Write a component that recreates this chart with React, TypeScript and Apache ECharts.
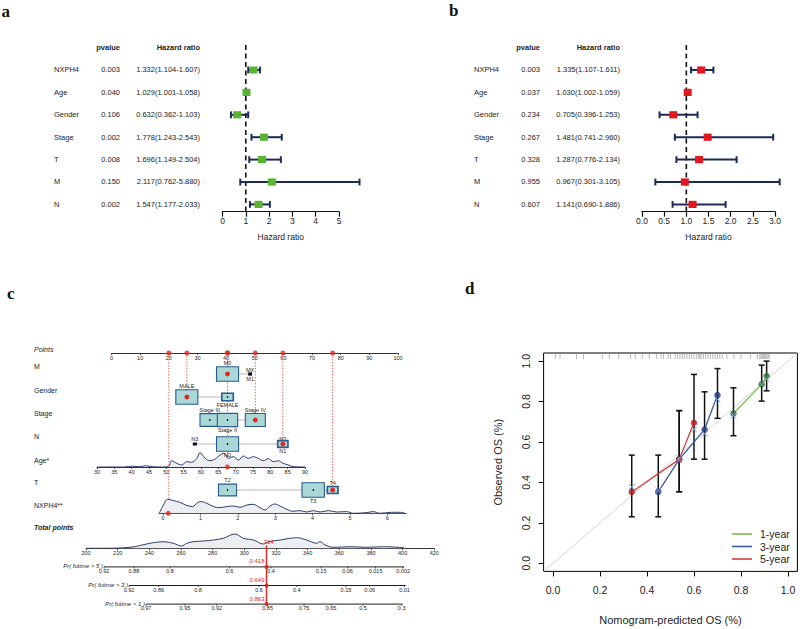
import React, { useEffect, useRef } from 'react';
import * as echarts from 'echarts';

const FONT = '"Liberation Sans", Arial, sans-serif';
const SERIF = '"Liberation Serif", "Times New Roman", serif';

// ---------------- Panels a & b : forest plots ----------------
const forestVars = ['NXPH4', 'Age', 'Gender', 'Stage', 'T', 'M', 'N'];
const uniP = ['0.003', '0.040', '0.106', '0.002', '0.008', '0.150', '0.002'];
const uniHR = [1.332, 1.029, 0.632, 1.778, 1.696, 2.117, 1.547];
const uniLow = [1.104, 1.001, 0.362, 1.243, 1.149, 0.762, 1.177];
const uniHigh = [1.607, 1.058, 1.103, 2.543, 2.504, 5.88, 2.033];
const multiP = ['0.003', '0.037', '0.234', '0.267', '0.328', '0.955', '0.607'];
const multiHR = [1.335, 1.03, 0.705, 1.481, 1.287, 0.967, 1.141];
const multiLow = [1.107, 1.002, 0.396, 0.741, 0.776, 0.301, 0.69];
const multiHigh = [1.611, 1.059, 1.253, 2.96, 2.134, 3.105, 1.886];

// ---------------- Panel c : nomogram ----------------
const mLevels = ['M0', 'MX', 'M1'];
const mScores = [40.5, 48.4, 48.4];
const mFreq = [0.92, 0.005, 0.01];
const genderLevels = ['MALE', 'FEMALE'];
const genderScores = [26.3, 40.5];
const genderFreq = [0.92, 0.25];
const stageLevels = ['Stage III', 'Stage II', 'Stage IV'];
const stageScores = [34.3, 40.5, 50.2];
const stageFreq = [0.72, 0.78, 0.76];
const nLevels = ['N3', 'N0', 'N2', 'N1'];
const nScores = [29.1, 40.5, 59.8, 59.8];
const nFreq = [0.012, 0.92, 0.05, 0.2];
const tLevels = ['T2', 'T3', 'T4'];
const tScores = [40.5, 70.4, 77.2];
const tFreq = [0.62, 0.95, 0.22];
const patientCats = { M: 'M0', Gender: 'MALE', Stage: 'Stage IV', N: 'N1', T: 'T4' };
const patientAge = 67.6;
const patientNXPH4 = 0.14;
const contribVars = ['NXPH4', 'Gender', 'M', 'Age', 'Stage', 'N', 'T'];
const contribPoints = [20.0, 26.3, 40.5, 40.5, 50.2, 59.8, 77.2];
const patientTotal = 314;
const patientProb = ['0.418', '0.649', '0.863'];

const ageDensX = [30, 38, 40, 42, 44, 46, 48, 50.6, 51.5, 53, 54.4, 55.9, 57.3, 58.8, 59.7, 61.2, 62.6, 64, 65.5, 66.6, 67.9, 69.3, 70.8, 72.2, 73.6, 75.1, 76.5, 78, 79.4, 80.9, 82.3, 83.7, 85.2, 86.6, 90];
const ageDensH = [0, 0, 0.8, 0.3, 1.2, 0.3, 0, 0.3, 6.3, 3.7, 2, 5.3, 4.7, 8.7, 14.3, 8.7, 6.3, 7.7, 12, 13.7, 8.7, 10.3, 7, 11, 8.7, 10.3, 8.7, 6.3, 8.3, 5.3, 6.3, 3.7, 2, 0.3, 0];
const nxDensX = [-0.1, 0.01, 0.12, 0.28, 0.45, 0.63, 0.79, 0.92, 1.03, 1.17, 1.35, 1.52, 1.7, 1.88, 2.06, 2.24, 2.41, 2.59, 2.73, 2.86, 2.99, 3.13, 3.31, 3.48, 3.66, 3.84, 4.02, 4.2, 4.42, 4.64, 4.91, 5.09, 5.45, 5.62, 5.8, 6.11, 6.34, 6.47];
const nxDensH = [0, 8.3, 14, 12.7, 11, 8, 6.7, 10.7, 11.7, 10, 6.7, 5.7, 6.7, 7.3, 6, 8.3, 9, 5.7, 3.3, 7.3, 9.3, 7.3, 4, 2, 2.7, 1.3, 2.7, 1.3, 2.7, 1.3, 1.7, 0, 0.7, 1.7, 0, 1, 1, 0];
const totDensX = [200, 208.8, 227.8, 238.3, 242.5, 248.8, 255.1, 260.4, 263.6, 267.8, 274.1, 280.4, 286.7, 294.1, 299.4, 305.7, 312, 315.2, 322.6, 328.9, 333.1, 339.4, 345.7, 347.8, 351, 356.2, 366.8, 377.3, 387.8, 401];
const totDensH = [0, 0, 1, 4.3, 5.6, 6.6, 5, 2.3, 5, 6.6, 7.3, 8.3, 10, 14.3, 10, 8.3, 4.3, 6.6, 8.3, 10, 10.6, 8.3, 5, 6.6, 3.3, 1, 1.6, 1, 1.6, 0.6];

const surv5Labels = ['0.92', '0.88', '0.8', '0.6', '0.4', '0.15', '0.06', '0.015', '0.002'];
const surv5At = [211.4, 230.3, 253.1, 290.7, 316.9, 348.5, 365.2, 382.9, 400.3];
const surv3Labels = ['0.92', '0.86', '0.8', '0.6', '0.4', '0.15', '0.06', '0.01'];
const surv3At = [227.2, 245.9, 270.8, 309.3, 333.1, 364.2, 379.2, 401.2];
const surv1Labels = ['0.97', '0.95', '0.92', '0.85', '0.75', '0.65', '0.5', '0.3'];
const surv1At = [237.9, 262.5, 282.6, 314.7, 337.7, 354.8, 375, 399.4];

// ---------------- Panel d : calibration ----------------
const cal1X = [0.768, 0.888, 0.909];
const cal1Y = [0.741, 0.885, 0.926];
const cal1Lo = [0.631, 0.802, 0.853];
const cal1Hi = [0.868, 0.98, 1.0];
const cal1Corr = [0.73, 0.885, 0.91];
const cal3X = [0.448, 0.537, 0.645, 0.7];
const cal3Y = [0.353, 0.514, 0.662, 0.832];
const cal3Lo = [0.23, 0.354, 0.515, 0.717];
const cal3Hi = [0.535, 0.755, 0.848, 0.963];
const cal3Corr = [0.36, 0.51, 0.64, 0.81];
const cal5X = [0.335, 0.537, 0.6];
const cal5Y = [0.353, 0.514, 0.695];
const cal5Lo = [0.23, 0.354, 0.515];
const cal5Hi = [0.535, 0.755, 0.934];
const cal5Corr = [0.378, 0.52, 0.662];
const rugValues = [0.01, 0.03, 0.1, 0.13, 0.21, 0.24, 0.28, 0.33, 0.35, 0.38, 0.41, 0.44, 0.46, 0.47, 0.49, 0.5, 0.52, 0.53, 0.54, 0.55, 0.56, 0.57, 0.58, 0.59, 0.6, 0.61, 0.62, 0.625, 0.63, 0.64, 0.65, 0.66, 0.67, 0.68, 0.69, 0.7, 0.71, 0.72, 0.74, 0.77, 0.8, 0.84, 0.87, 0.88, 0.885, 0.89, 0.895, 0.9, 0.905, 0.91, 0.915, 0.92];
const calTicks = [0, 0.2, 0.4, 0.6, 0.8, 1.0];

// ---------------- helpers ----------------
const zip = (a: number[], b: number[]) => a.map((v, i) => [v, b[i]]);

function tableItems(pv: string[], hr: number[], lo: number[], hi: number[], xName: number, xP: number, xHR: number) {
  const items: any[] = [
    { x: xP, row: -1, text: 'pvalue', align: 'right', bold: true },
    { x: xHR, row: -1, text: 'Hazard ratio', align: 'right', bold: true },
  ];
  forestVars.forEach((n, i) => {
    items.push({ x: xName, row: i, text: n, align: 'left' });
    items.push({ x: xP, row: i, text: pv[i], align: 'right' });
    items.push({ x: xHR, row: i, text: `${hr[i].toFixed(3)}(${lo[i].toFixed(3)}-${hi[i].toFixed(3)})`, align: 'right' });
  });
  return items;
}

function textSeries(idx: number, items: any[]) {
  return {
    type: 'custom', coordinateSystem: 'cartesian2d', xAxisIndex: idx, yAxisIndex: idx, clip: false, silent: true,
    data: items.map((it) => [it.x, it.row]),
    renderItem: (params: any, api: any) => {
      const it = items[params.dataIndex];
      const p = api.coord([it.x, it.row]);
      return {
        type: 'text', x: p[0], y: p[1],
        style: { text: it.text, fill: '#222', fontSize: 7.5, fontFamily: FONT, fontWeight: it.bold ? 'bold' : 'normal', align: it.align, verticalAlign: 'middle' },
      };
    },
  };
}

const ROW_MIN = -1.116;
const ROW_MAX = 6.326;
const NAVY = '#1d2a56';

function forestSeries(idx: number, hr: number[], lo: number[], hi: number[], color: string) {
  return [
    {
      type: 'custom', coordinateSystem: 'cartesian2d', xAxisIndex: idx, yAxisIndex: idx, clip: false, silent: true, z: 1,
      data: [[1, ROW_MIN]],
      renderItem: (params: any, api: any) => {
        const a = api.coord([1, ROW_MIN]);
        const b = api.coord([1, ROW_MAX]);
        return { type: 'line', shape: { x1: a[0], y1: a[1], x2: b[0], y2: b[1] }, style: { stroke: '#111', lineWidth: 1.6, lineDash: [5, 3.5] } };
      },
    },
    {
      type: 'custom', coordinateSystem: 'cartesian2d', xAxisIndex: idx, yAxisIndex: idx, clip: false, silent: true, z: 3,
      data: hr.map((v, i) => [v, i, lo[i], hi[i]]),
      renderItem: (params: any, api: any) => {
        const row = api.value(1);
        const p = api.coord([api.value(0), row]);
        const pl = api.coord([api.value(2), row]);
        const ph = api.coord([api.value(3), row]);
        const cap = 3.4;
        const st = { stroke: NAVY, lineWidth: 2 };
        return {
          type: 'group',
          children: [
            { type: 'line', shape: { x1: pl[0], y1: p[1], x2: ph[0], y2: p[1] }, style: st },
            { type: 'line', shape: { x1: pl[0], y1: p[1] - cap, x2: pl[0], y2: p[1] + cap }, style: st },
            { type: 'line', shape: { x1: ph[0], y1: p[1] - cap, x2: ph[0], y2: p[1] + cap }, style: st },
            { type: 'rect', shape: { x: p[0] - 4, y: p[1] - 3.6, width: 8, height: 7.2 }, style: { fill: color } },
          ],
        };
      },
    },
  ];
}

// nomogram layout (vertical offsets below the Points axis, in px)
const ROW_OFF: any = { M: 21, Gender: 44, Stage: 67, N: 91, Age: 114, T: 137, NXPH4: 160 };
const boxRows = [
  { key: 'M', levels: mLevels, scores: mScores, freq: mFreq, side: ['top', 'top', 'bottom'] },
  { key: 'Gender', levels: genderLevels, scores: genderScores, freq: genderFreq, side: ['top', 'bottom'] },
  { key: 'Stage', levels: stageLevels, scores: stageScores, freq: stageFreq, side: ['top', 'bottom', 'top'] },
  { key: 'N', levels: nLevels, scores: nScores, freq: nFreq, side: ['top', 'bottom', 'top', 'bottom'] },
  { key: 'T', levels: tLevels, scores: tScores, freq: tFreq, side: ['top', 'bottom', 'top'] },
];

function buildOption() {
  const axNone = (gridIndex: number, min: number, max: number, inverse = false) => ({ gridIndex, type: 'value', min, max, inverse, show: false });
  const nomoAxis = (gridIndex: number, min: number, max: number, extra: any = {}) => ({
    gridIndex, type: 'value', min, max,
    axisLine: { show: true, onZero: false, lineStyle: { color: '#333', width: 1 } },
    axisTick: { show: true, length: 2, lineStyle: { color: '#333', width: 0.8 } },
    axisLabel: { fontSize: 5.5, color: '#222', margin: 1.5, fontFamily: FONT, hideOverlap: false },
    splitLine: { show: false },
    ...extra,
  });
  const forestAxis = (gridIndex: number, max: number, interval: number, fmt: any) => ({
    gridIndex, type: 'value', min: 0, max, interval,
    axisLine: { show: true, onZero: false, lineStyle: { color: '#111', width: 1.2 } },
    axisTick: { show: true, length: 5, lineStyle: { color: '#111', width: 1.2 } },
    axisLabel: { fontSize: 8.5, color: '#222', margin: 5, fontFamily: FONT, formatter: fmt },
    splitLine: { show: false },
    name: 'Hazard ratio', nameLocation: 'middle', nameGap: 21,
    nameTextStyle: { fontSize: 8.5, color: '#222', fontFamily: FONT },
  });

  const grid = [
    { left: 0, top: 45, width: 222, height: 166.7 }, // 0 table a
    { left: 222.5, top: 45, width: 116.5, height: 166.7 }, // 1 forest a
    { left: 400, top: 45, width: 242, height: 166.7 }, // 2 table b
    { left: 642, top: 45, width: 133, height: 166.7 }, // 3 forest b
    { left: 543.6, top: 353, width: 253.8, height: 218.4, show: true, borderColor: '#000', borderWidth: 1, backgroundColor: 'transparent' }, // 4 calibration
    { left: 111.5, top: 343, width: 286.5, height: 10 }, // 5 points axis
    { left: 111.5, top: 353, width: 286.5, height: 160 }, // 6 boxes
    { left: 97, top: 447, width: 208, height: 20 }, // 7 age
    { left: 159.3, top: 493.3, width: 246.8, height: 20 }, // 8 NXPH4
    { left: 86, top: 528.3, width: 348.3, height: 20 }, // 9 total points
    { left: 86, top: 548.3, width: 348.3, height: 55.8 }, // 10 probabilities
  ];

  const xAxis = [
    axNone(0, 0, 222),
    forestAxis(1, 5, 1, (v: number) => String(v)),
    axNone(2, 400, 642),
    forestAxis(3, 3, 0.5, (v: number) => v.toFixed(1)),
    {
      gridIndex: 4, type: 'value', min: -0.04, max: 1.04,
      axisLine: { show: false, onZero: false },
      axisTick: { show: true, length: 5, customValues: calTicks, lineStyle: { color: '#000' } },
      axisLabel: { customValues: calTicks, formatter: (v: number) => v.toFixed(1), fontSize: 10.5, color: '#222', margin: 13, fontFamily: FONT },
      splitLine: { show: false },
      name: 'Nomogram-predicted OS (%)', nameLocation: 'middle', nameGap: 43,
      nameTextStyle: { fontSize: 11, color: '#222', fontFamily: FONT },
    },
    nomoAxis(5, 0, 100, { interval: 10 }),
    axNone(6, 0, 100),
    nomoAxis(7, 30, 90, { interval: 5 }),
    nomoAxis(8, -0.1, 6.5, {
      axisTick: { show: true, length: 2, customValues: [0, 1, 2, 3, 4, 5, 6], lineStyle: { color: '#333', width: 0.8 } },
      axisLabel: { customValues: [0, 1, 2, 3, 4, 5, 6], fontSize: 5.5, color: '#222', margin: 1.5, fontFamily: FONT },
    }),
    nomoAxis(9, 200, 420, { interval: 20 }),
    axNone(10, 200, 420),
  ];

  const yAxis = [
    axNone(0, ROW_MIN, ROW_MAX, true),
    axNone(1, ROW_MIN, ROW_MAX, true),
    axNone(2, ROW_MIN, ROW_MAX, true),
    axNone(3, ROW_MIN, ROW_MAX, true),
    {
      gridIndex: 4, type: 'value', min: -0.04, max: 1.04,
      axisLine: { show: false, onZero: false },
      axisTick: { show: true, length: 5, customValues: calTicks, lineStyle: { color: '#000' } },
      axisLabel: { customValues: calTicks, formatter: (v: number) => v.toFixed(1), fontSize: 10.5, color: '#222', margin: 12, rotate: 90, fontFamily: FONT },
      splitLine: { show: false },
      name: 'Observed OS (%)', nameLocation: 'middle', nameGap: 40, nameRotate: 90,
      nameTextStyle: { fontSize: 11, color: '#222', fontFamily: FONT },
    },
    axNone(5, 0, 1),
    axNone(6, 0, 160, true),
    axNone(7, 0, 20),
    axNone(8, 0, 20),
    axNone(9, 0, 20),
    axNone(10, 0, 3, true),
  ];

  const series: any[] = [];

  // ---- a & b
  series.push(textSeries(0, tableItems(uniP, uniHR, uniLow, uniHigh, 54, 120, 200)));
  series.push(...forestSeries(1, uniHR, uniLow, uniHigh, '#5ab431'));
  series.push(textSeries(2, tableItems(multiP, multiHR, multiLow, multiHigh, 474, 540, 620)));
  series.push(...forestSeries(3, multiHR, multiLow, multiHigh, '#e3171e'));

  // ---- d calibration
  series.push({
    type: 'line', xAxisIndex: 4, yAxisIndex: 4, data: [[-0.04, -0.04], [1.04, 1.04]], symbol: 'none', silent: true,
    lineStyle: { color: '#d6d6d6', width: 1 }, z: 1,
  });
  series.push({
    type: 'custom', coordinateSystem: 'cartesian2d', xAxisIndex: 4, yAxisIndex: 4, clip: false, silent: true, z: 2,
    data: rugValues.map((v) => [v, 1.04]),
    renderItem: (params: any, api: any) => {
      const p = api.coord([api.value(0), 1.04]);
      return { type: 'line', shape: { x1: p[0], y1: p[1], x2: p[0], y2: p[1] + 6 }, style: { stroke: '#8a8a8a', lineWidth: 0.6 } };
    },
  });
  const calSets = [
    { name: '1-year', x: cal1X, y: cal1Y, lo: cal1Lo, hi: cal1Hi, corr: cal1Corr, line: '#7cbd4b', dot: '#2e6b3f' },
    { name: '3-year', x: cal3X, y: cal3Y, lo: cal3Lo, hi: cal3Hi, corr: cal3Corr, line: '#3c5aa0', dot: '#243a80' },
    { name: '5-year', x: cal5X, y: cal5Y, lo: cal5Lo, hi: cal5Hi, corr: cal5Corr, line: '#d43c3c', dot: '#b71c1c' },
  ];
  calSets.forEach((s) => {
    series.push({
      type: 'custom', coordinateSystem: 'cartesian2d', xAxisIndex: 4, yAxisIndex: 4, clip: false, silent: true, z: 3,
      data: s.x.map((v, i) => [v, s.lo[i], s.hi[i]]),
      renderItem: (params: any, api: any) => {
        const a = api.coord([api.value(0), api.value(1)]);
        const b = api.coord([api.value(0), api.value(2)]);
        const st = { stroke: '#111', lineWidth: 1.5 };
        return {
          type: 'group', children: [
            { type: 'line', shape: { x1: a[0], y1: a[1], x2: b[0], y2: b[1] }, style: st },
            { type: 'line', shape: { x1: a[0] - 3, y1: a[1], x2: a[0] + 3, y2: a[1] }, style: st },
            { type: 'line', shape: { x1: b[0] - 3, y1: b[1], x2: b[0] + 3, y2: b[1] }, style: st },
          ],
        };
      },
    });
  });
  calSets.forEach((s) => {
    series.push({
      name: s.name, type: 'line', xAxisIndex: 4, yAxisIndex: 4, data: zip(s.x, s.y), symbol: 'none', silent: true,
      lineStyle: { color: s.line, width: 1.3 }, itemStyle: { color: s.line }, z: 4,
    });
  });
  calSets.forEach((s) => {
    series.push({
      name: s.name + ' pts', type: 'scatter', xAxisIndex: 4, yAxisIndex: 4, data: zip(s.x, s.y), symbol: 'circle', symbolSize: 6.5, silent: true,
      itemStyle: { color: s.dot }, z: 5,
    });
    series.push({
      type: 'custom', coordinateSystem: 'cartesian2d', xAxisIndex: 4, yAxisIndex: 4, clip: false, silent: true, z: 6,
      data: zip(s.x, s.corr),
      renderItem: (params: any, api: any) => {
        const p = api.coord([api.value(0), api.value(1)]);
        const d = 2.8;
        const st = { stroke: '#7b9bd0', lineWidth: 1 };
        return {
          type: 'group', children: [
            { type: 'line', shape: { x1: p[0] - d, y1: p[1] - d, x2: p[0] + d, y2: p[1] + d }, style: st },
            { type: 'line', shape: { x1: p[0] - d, y1: p[1] + d, x2: p[0] + d, y2: p[1] - d }, style: st },
          ],
        };
      },
    });
  });

  // ---- c nomogram
  const RED = '#e3241c';
  series.push({
    type: 'scatter', xAxisIndex: 5, yAxisIndex: 5, data: contribPoints.map((p) => [p, 0]), symbolSize: 5, silent: true, clip: false,
    itemStyle: { color: RED }, z: 5,
  });
  series.push({
    type: 'custom', coordinateSystem: 'cartesian2d', xAxisIndex: 6, yAxisIndex: 6, clip: false, silent: true, z: 1,
    data: contribPoints.map((p, i) => [p, ROW_OFF[contribVars[i]]]),
    renderItem: (params: any, api: any) => {
      const a = api.coord([api.value(0), 0]);
      const b = api.coord([api.value(0), api.value(1)]);
      return { type: 'line', shape: { x1: a[0], y1: a[1], x2: b[0], y2: b[1] }, style: { stroke: '#e8564c', lineWidth: 0.9, lineDash: [1.5, 1.5] } };
    },
  });
  series.push({
    type: 'custom', coordinateSystem: 'cartesian2d', xAxisIndex: 6, yAxisIndex: 6, clip: false, silent: true, z: 2,
    data: boxRows.map((r) => [Math.min(...r.scores), ROW_OFF[r.key], Math.max(...r.scores)]),
    renderItem: (params: any, api: any) => {
      const a = api.coord([api.value(0), api.value(1)]);
      const b = api.coord([api.value(2), api.value(1)]);
      return { type: 'line', shape: { x1: a[0], y1: a[1], x2: b[0], y2: b[1] }, style: { stroke: '#b9b9b9', lineWidth: 1 } };
    },
  });
  const boxItems: any[] = [];
  boxRows.forEach((r) => r.levels.forEach((lv, i) => boxItems.push({
    score: r.scores[i], y: ROW_OFF[r.key], freq: r.freq[i], label: lv, side: r.side[i], sel: (patientCats as any)[r.key] === lv,
  })));
  series.push({
    type: 'custom', coordinateSystem: 'cartesian2d', xAxisIndex: 6, yAxisIndex: 6, clip: false, silent: true, z: 3,
    data: boxItems.map((b) => [b.score, b.y]),
    renderItem: (params: any, api: any) => {
      const b = boxItems[params.dataIndex];
      const c = api.coord([b.score, b.y]);
      const s = Math.sqrt(b.freq);
      const w = 23 * s;
      const h = 15 * s;
      const tiny = b.freq < 0.03;
      const children: any[] = [
        { type: 'rect', shape: { x: c[0] - w / 2, y: c[1] - h / 2, width: w, height: h },
          style: { fill: tiny ? '#111' : '#a9d8d6', stroke: tiny ? '#111' : '#2b5a8e', lineWidth: b.freq < 0.3 ? 1.6 : 1.1 } },
      ];
      if (!tiny) children.push({ type: 'circle', shape: { cx: c[0], cy: c[1], r: b.sel ? 2.4 : 0.8 }, style: { fill: b.sel ? RED : '#111' } });
      const top = b.side === 'top';
      children.push({
        type: 'text', x: c[0], y: top ? c[1] - h / 2 - 0.8 : c[1] + h / 2 + 0.8,
        style: { text: b.label, fontSize: 5.5, fontFamily: FONT, fill: '#222', align: 'center', verticalAlign: top ? 'bottom' : 'top' },
      });
      return { type: 'group', children };
    },
  });
  const dens = (idx: number, xs: number[], hs: number[]) => ({
    type: 'line', xAxisIndex: idx, yAxisIndex: idx, data: zip(xs, hs), symbol: 'none', smooth: 0.35, silent: true,
    lineStyle: { color: '#2f3d6b', width: 1 }, areaStyle: { color: '#eceef1', opacity: 1 }, z: 2,
  });
  series.push(dens(7, ageDensX, ageDensH));
  series.push(dens(8, nxDensX, nxDensH));
  series.push(dens(9, totDensX, totDensH));
  series.push({ type: 'scatter', xAxisIndex: 7, yAxisIndex: 7, data: [[patientAge, 0]], symbolSize: 5, itemStyle: { color: RED }, clip: false, silent: true, z: 5 });
  series.push({ type: 'scatter', xAxisIndex: 8, yAxisIndex: 8, data: [[patientNXPH4, 0]], symbolSize: 5, itemStyle: { color: RED }, clip: false, silent: true, z: 5 });

  const probRows = [
    { title: 'Pr( futime > 5 )', at: surv5At, labels: surv5Labels },
    { title: 'Pr( futime > 3 )', at: surv3At, labels: surv3Labels },
    { title: 'Pr( futime > 1 )', at: surv1At, labels: surv1Labels },
  ];
  series.push({
    type: 'custom', coordinateSystem: 'cartesian2d', xAxisIndex: 10, yAxisIndex: 10, clip: false, silent: true, z: 2,
    data: probRows.map((r, i) => [r.at[0], i + 1]),
    renderItem: (params: any, api: any) => {
      const r = probRows[params.dataIndex];
      const row = params.dataIndex + 1;
      const a = api.coord([r.at[0], row]);
      const b = api.coord([r.at[r.at.length - 1], row]);
      const children: any[] = [
        { type: 'line', shape: { x1: a[0], y1: a[1], x2: b[0] + 1, y2: b[1] }, style: { stroke: '#222', lineWidth: 1 } },
        { type: 'text', x: a[0] - 1, y: a[1] - 0.5, style: { text: r.title, fontSize: 6, fontStyle: 'italic', fontFamily: FONT, fill: '#222', align: 'right', verticalAlign: 'middle' } },
      ];
      r.at.forEach((v, k) => {
        const p = api.coord([v, row]);
        children.push({ type: 'line', shape: { x1: p[0], y1: p[1], x2: p[0], y2: p[1] + 1.5 }, style: { stroke: '#222', lineWidth: 0.8 } });
        children.push({ type: 'text', x: p[0], y: p[1] + 1.2, style: { text: r.labels[k], fontSize: 5.5, fontFamily: FONT, fill: '#222', align: 'center', verticalAlign: 'top' } });
      });
      return { type: 'group', children };
    },
  });
  series.push({
    type: 'custom', coordinateSystem: 'cartesian2d', xAxisIndex: 10, yAxisIndex: 10, clip: false, silent: true, z: 6,
    data: [[patientTotal, 0]],
    renderItem: (params: any, api: any) => {
      const top = api.coord([patientTotal, -0.15]);
      const bot = api.coord([patientTotal, 3]);
      const children: any[] = [
        { type: 'line', shape: { x1: top[0], y1: top[1], x2: bot[0], y2: bot[1] }, style: { stroke: RED, lineWidth: 1.4 } },
        { type: 'text', x: top[0] + 2, y: top[1] - 0.5, style: { text: String(patientTotal), fontSize: 6, fontFamily: FONT, fill: RED, align: 'center', verticalAlign: 'bottom' } },
      ];
      patientProb.forEach((pv, i) => {
        const p = api.coord([patientTotal, i + 1]);
        children.push({ type: 'circle', shape: { cx: p[0], cy: p[1], r: 2 }, style: { fill: RED } });
        children.push({ type: 'text', x: p[0] - 2, y: p[1] - 2.5, style: { text: pv, fontSize: 6, fontFamily: FONT, fill: RED, align: 'right', verticalAlign: 'bottom' } });
      });
      return { type: 'group', children };
    },
  });

  const rowLabels = [
    { t: 'Points', y: 349, style: 'italic', w: 'normal' },
    { t: 'M', y: 366.7, style: 'normal', w: 'normal' },
    { t: 'Gender', y: 390, style: 'normal', w: 'normal' },
    { t: 'Stage', y: 413, style: 'normal', w: 'normal' },
    { t: 'N', y: 436.7, style: 'normal', w: 'normal' },
    { t: 'Age*', y: 460, style: 'normal', w: 'normal' },
    { t: 'T', y: 482.7, style: 'normal', w: 'normal' },
    { t: 'NXPH4**', y: 505.7, style: 'normal', w: 'normal' },
    { t: 'Total points', y: 527.3, style: 'italic', w: 'bold' },
  ];
  const graphic: any[] = rowLabels.map((r) => ({
    type: 'text', x: 34, y: r.y, silent: true,
    style: { text: r.t, fontSize: 7, fontFamily: FONT, fontStyle: r.style, fontWeight: r.w, fill: '#222', align: 'left', verticalAlign: 'middle' },
  }));
  const letters = [
    { t: 'a', x: 1.5, y: 20 },
    { t: 'b', x: 449, y: 18.5 },
    { t: 'c', x: 7, y: 301.5 },
    { t: 'd', x: 465, y: 296.5 },
  ];
  letters.forEach((l) => graphic.push({
    type: 'text', x: l.x, y: l.y, silent: true,
    style: { text: l.t, fontSize: 17, fontWeight: 'bold', fontFamily: SERIF, fill: '#111', align: 'left', verticalAlign: 'bottom' },
  }));

  return {
    animation: false,
    backgroundColor: '#fff',
    grid,
    xAxis,
    yAxis,
    legend: {
      data: ['1-year', '3-year', '5-year'], orient: 'vertical', left: 727, top: 523.5, itemWidth: 20, itemHeight: 1.6, itemGap: 1.5,
      icon: 'rect',
      textStyle: { fontSize: 10.5, color: '#222', fontFamily: FONT, padding: [0, 0, 0, 3] }, selectedMode: false,
    },
    graphic,
    series,
  };
}

export default function App() {
  const ref = useRef<HTMLDivElement>(null);
  useEffect(() => {
    if (!ref.current) return;
    const chart = echarts.init(ref.current, undefined, { renderer: 'svg' });
    chart.setOption(buildOption() as any);
    return () => chart.dispose();
  }, []);
  return <div ref={ref} style={{ position: 'fixed', left: 0, top: 0, width: 800, height: 629, background: '#fff' }} />;
}
